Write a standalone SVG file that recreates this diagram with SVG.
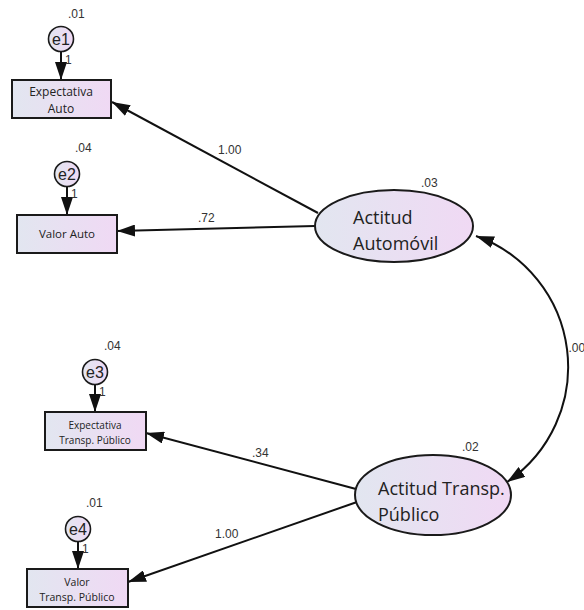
<svg xmlns="http://www.w3.org/2000/svg" width="584" height="610" viewBox="0 0 584 610">
<style>
.node{stroke:#1a1a1a;stroke-width:2;fill:url(#g)}
.err{stroke:#1a1a1a;stroke-width:1.6;fill:url(#g)}
.lab{font-family:"Liberation Sans",Arial,sans-serif;font-size:12px;fill:#333}
.box{font-family:"Open Sans","Liberation Sans",sans-serif;fill:#222;text-anchor:middle}
.big{font-family:"Open Sans","Liberation Sans",sans-serif;font-size:18px;fill:#222}
.et{font-family:"Liberation Sans",Arial,sans-serif;font-size:16px;fill:#222;text-anchor:middle}
.c{stroke:#111;stroke-width:2;fill:none;marker-end:url(#ah)}
</style>
<defs>
<linearGradient id="g" x1="0" y1="0" x2="1" y2="0">
<stop offset="0" stop-color="#e2e6f0"/>
<stop offset="1" stop-color="#f0d9f4"/>
</linearGradient>
<marker id="ah" viewBox="0 0 18 12" refX="18" refY="6" markerWidth="18" markerHeight="12" markerUnits="userSpaceOnUse" orient="auto-start-reverse">
<path d="M0,0 L18,6 L0,12 Z" fill="#111"/>
</marker>
</defs>
<rect width="584" height="610" fill="#fff"/>
<g id="connectors">
<line class="c" x1="61" y1="52" x2="61" y2="80"/>
<line class="c" x1="67" y1="187" x2="67" y2="215"/>
<line class="c" x1="95" y1="385" x2="95" y2="412"/>
<line class="c" x1="78" y1="542" x2="78" y2="569"/>
<line class="c" x1="318" y1="213" x2="112" y2="102"/>
<line class="c" x1="315" y1="226" x2="117" y2="231"/>
<line class="c" x1="356" y1="489" x2="146" y2="433"/>
<line class="c" x1="357" y1="502" x2="128" y2="582"/>
<path class="c" d="M 476 236 A 139 139 0 0 1 507 482" marker-start="url(#ah)"/>
<text class="lab" x="65" y="64">1</text>
<text class="lab" x="71" y="198">1</text>
<text class="lab" x="99" y="396">1</text>
<text class="lab" x="82" y="553">1</text>
<text class="lab" x="218" y="154">1.00</text>
<text class="lab" x="198" y="222">.72</text>
<text class="lab" x="252" y="457">.34</text>
<text class="lab" x="215" y="538">1.00</text>
<text class="lab" font-size="11" x="568.5" y="352">.00</text>
</g>
<g id="e1"><circle class="err" cx="61" cy="39" r="12.5"/><text class="et" x="61" y="45">e1</text><text class="lab" x="68" y="18">.01</text></g>
<g id="e2"><circle class="err" cx="67" cy="174" r="12.5"/><text class="et" x="67" y="180">e2</text><text class="lab" x="75" y="152">.04</text></g>
<g id="e3"><circle class="err" cx="95" cy="372" r="12.5"/><text class="et" x="95" y="378">e3</text><text class="lab" x="104" y="350">.04</text></g>
<g id="e4"><circle class="err" cx="78" cy="529" r="12.5"/><text class="et" x="78" y="535">e4</text><text class="lab" x="86" y="507">.01</text></g>
<g id="expectativa-auto"><rect class="node" x="12" y="80" width="99" height="38"/><text class="box" font-size="12" x="61" y="96">Expectativa</text><text class="box" font-size="12" x="61" y="113">Auto</text></g>
<g id="valor-auto"><rect class="node" x="17" y="215" width="100" height="38"/><text class="box" font-size="11.5" x="67" y="238">Valor Auto</text></g>
<g id="expectativa-transp"><rect class="node" x="45" y="412" width="101" height="38"/><text class="box" font-size="10" x="95" y="429">Expectativa</text><text class="box" font-size="10" x="95" y="444">Transp. Público</text></g>
<g id="valor-transp"><rect class="node" x="27" y="569" width="101" height="38"/><text class="box" font-size="10.5" x="77" y="586">Valor</text><text class="box" font-size="10.5" x="77" y="601">Transp. Público</text></g>
<g id="actitud-automovil"><ellipse class="node" cx="394" cy="226" rx="79" ry="36"/><text class="big" x="353" y="224">Actitud</text><text class="big" x="353" y="250">Automóvil</text><text class="lab" x="421" y="187">.03</text></g>
<g id="actitud-transp"><ellipse class="node" cx="433" cy="495" rx="78" ry="40"/><text class="big" x="378" y="495">Actitud Transp.</text><text class="big" x="378" y="521">Público</text><text class="lab" x="462" y="451">.02</text></g>
</svg>
